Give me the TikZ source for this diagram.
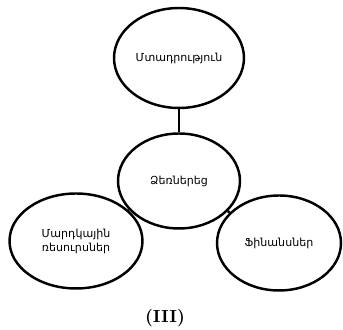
\documentclass[tikz,border=0pt]{standalone}
\usepackage{fontspec}
\newfontfamily\armfont{DejaVu Sans}
\usetikzlibrary{shapes,positioning}

\begin{document}
\begin{tikzpicture}[x=0.02cm,y=-0.02cm,
        oval/.style={draw,ellipse,line width=1.4pt,inner sep=0pt,align=center,
            font=\armfont\fontsize{6.3}{8}\selectfont},
        link/.style={line width=1.4pt}]
        \useasboundingbox (0,0) rectangle (343,330);

        % Ovals
        \node[oval,minimum width=2.6cm,minimum height=2cm] (intent) at (179,58) {Մտադրություն};
        \node[oval,minimum width=2.44cm,minimum height=1.9cm] (entre) at (179,181) {Ձեռներեց};
        \node[oval,minimum width=2.66cm,minimum height=1.9cm] (human) at (76,241) {Մարդկային\\ռեսուրսներ};
        \node[oval,minimum width=2.48cm,minimum height=1.9cm] (money) at (279,243) {Ֆինանսներ};

        % Links
        \draw[link] (intent) -- (entre);
        \draw[link] (entre) -- (human);
        \draw[link] (entre) -- (money);

        \node (label) at (165,318) {\textbf{(III)}};
    \end{tikzpicture}
\end{document}
